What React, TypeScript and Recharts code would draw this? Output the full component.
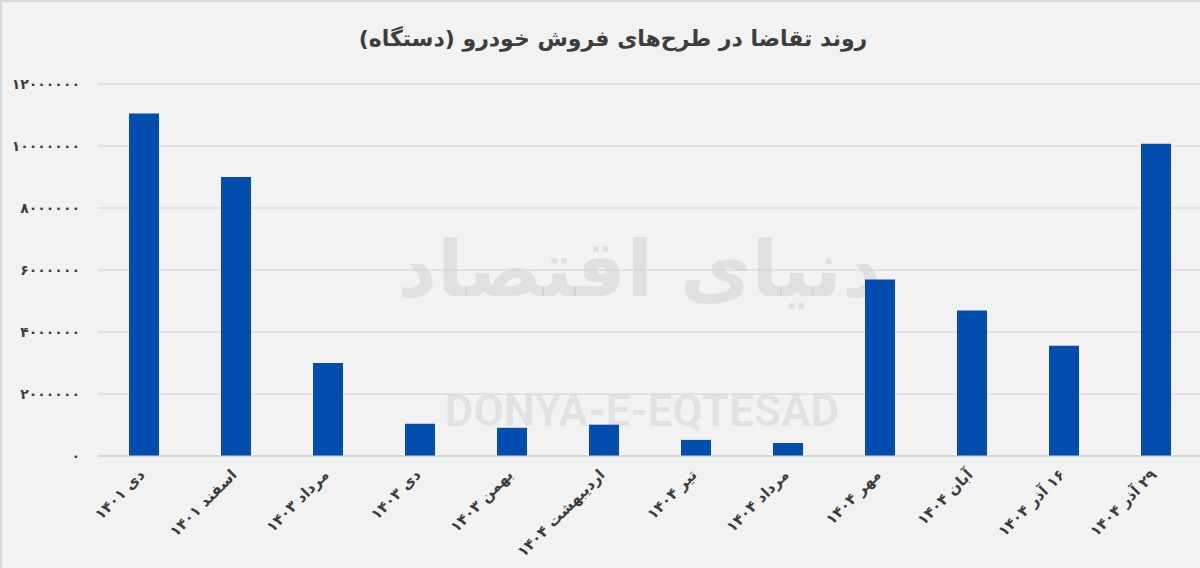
import { BarChart, Bar, XAxis, YAxis, CartesianGrid } from 'recharts'

const categories = [
  'دی ۱۴۰۱',
  'اسفند ۱۴۰۱',
  'مرداد ۱۴۰۳',
  'دی ۱۴۰۳',
  'بهمن ۱۴۰۳',
  'اردیبهشت ۱۴۰۴',
  'تیر ۱۴۰۴',
  'مرداد ۱۴۰۴',
  'مهر ۱۴۰۴',
  'آبان ۱۴۰۴',
  '۱۶ آذر ۱۴۰۴',
  '۲۹ آذر ۱۴۰۴',
]

const demand = [
  11050000, 9000000, 3000000, 1040000, 910000, 1010000, 520000, 420000, 5690000, 4690000, 3560000,
  10070000,
]

const yTicks = [0, 2000000, 4000000, 6000000, 8000000, 10000000, 12000000]

const FA_DIGITS = '۰۱۲۳۴۵۶۷۸۹'
const toFa = (v: number | string) => String(v).replace(/\d/g, (d) => FA_DIGITS[Number(d)])

const FONT = "'DejaVu Sans', 'Noto Sans', sans-serif"
const TEXT = '#3d3d3d'

const data = categories.map((name, i) => ({ name, value: demand[i] }))

// rotated persian labels, RLM keeps digits on the correct side
const XTick = ({ x, y, payload }: any) => (
  <g transform={`translate(${x - 2},${y + 8})`}>
    <text
      x={0}
      y={0}
      dy="0.35em"
      textAnchor="end"
      transform="rotate(-45)"
      fill={TEXT}
      fontSize={15}
      fontWeight="bold"
      fontFamily={FONT}
    >
      {'\u200F' + payload.value}
    </text>
  </g>
)

export default function App() {
  return (
    <div
      style={{
        position: 'fixed',
        left: 0,
        top: 0,
        width: 1200,
        height: 568,
        background: '#f2f2f2',
        borderTop: '2px solid #d8d8d8',
        borderLeft: '2px solid #d8d8d8',
        boxSizing: 'border-box',
        overflow: 'hidden',
      }}
    >
      <div
        dir="rtl"
        style={{
          position: 'absolute',
          left: 0,
          top: 24,
          width: 1222,
          textAlign: 'center',
          fontFamily: FONT,
          fontWeight: 'bold',
          fontSize: 22,
          color: TEXT,
        }}
      >
        روند تقاضا در طرح‌های فروش خودرو (دستگاه)
      </div>
      {/* watermark */}
      <div
        dir="rtl"
        style={{
          position: 'absolute',
          left: 400,
          top: 222,
          width: 480,
          textAlign: 'center',
          whiteSpace: 'nowrap',
          fontFamily: FONT,
          fontWeight: 'bold',
          fontSize: 78,
          color: 'rgba(0,0,0,0.07)',
          pointerEvents: 'none',
        }}
      >
        دنیای اقتصاد
      </div>
      <div
        style={{
          position: 'absolute',
          left: 430,
          top: 383,
          width: 420,
          textAlign: 'center',
          whiteSpace: 'nowrap',
          fontFamily: 'Roboto, sans-serif',
          fontWeight: 'bold',
          fontSize: 44,
          color: 'rgba(0,0,0,0.07)',
          pointerEvents: 'none',
        }}
      >
        DONYA-E-EQTESAD
      </div>
      <div style={{ position: 'absolute', left: -2, top: -2 }}>
        <BarChart
          width={1202}
          height={568}
          data={data}
          margin={{ top: 84, right: 0, bottom: 0, left: 0 }}
          barCategoryGap={0}
        >
          <CartesianGrid vertical={false} stroke="#d2d2d2" />
          <XAxis
            dataKey="name"
            interval={0}
            height={112}
            tick={<XTick />}
            tickLine={false}
            axisLine={{ stroke: '#cfcfcf' }}
          />
          <YAxis
            width={98}
            domain={[0, 12000000]}
            ticks={yTicks}
            interval={0}
            axisLine={false}
            tickLine={false}
            tickMargin={12}
            tickFormatter={(v) => toFa(v)}
            tick={{ fill: TEXT, fontSize: 14, fontWeight: 'bold', fontFamily: FONT }}
          />
          <Bar dataKey="value" fill="#034dae" barSize={30} isAnimationActive={false} />
        </BarChart>
      </div>
    </div>
  )
}
